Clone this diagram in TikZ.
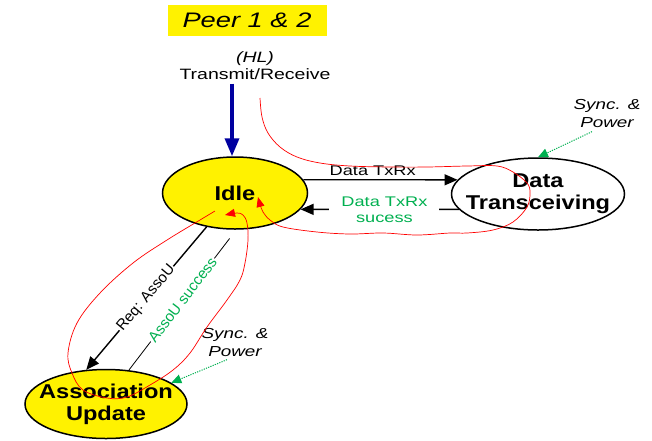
\documentclass[tikz,border=0pt]{standalone}
\usepackage{fontspec}
\setmainfont[FakeStretch=1.3]{Liberation Sans}
\newfontfamily\boldwide[FakeStretch=1.18]{Liberation Sans}
\newfontfamily\plainsf{Liberation Sans}
\usetikzlibrary{shapes.geometric,arrows.meta}
\definecolor{okgreen}{RGB}{0,176,80}
\definecolor{hlblue}{RGB}{0,0,160}
\tikzset{
  state/.style={ellipse, draw, line width=1.5pt, align=center, inner sep=0pt,
    font=\boldwide\bfseries\fontsize{20}{22}\selectfont},
  lbl/.style={align=center, font=\fontsize{14.5}{18}\selectfont},
  slopelbl/.style={sloped, fill=white, inner sep=1pt, font=\plainsf\fontsize{15}{17}\selectfont},
  fwd/.style={line width=1.4pt, -{Triangle[length=13pt,width=11pt]}},
  syncarrow/.style={okgreen, line width=1pt, dash pattern=on 1.2pt off 1.2pt,
    -{Triangle[length=10pt,width=9pt]}},
  trace/.style={red, line width=0.7pt, -{Triangle[length=10pt,width=8pt]}},
}

\begin{document}
\begin{tikzpicture}[x=1pt,y=-1pt]
\useasboundingbox (0,0) rectangle (652,440);

% title and higher layer
\node[fill=yellow, minimum width=159, minimum height=31,
    font=\itshape\fontsize{21}{24}\selectfont] (peer) at (247,20) {Peer 1 \& 2};
\node[lbl, font=\fontsize{15}{17}\selectfont] (hl) at (255,66) {\textit{(HL)}\\Transmit/Receive};

% states
\node[state, fill=yellow, minimum width=145, minimum height=72] (idle) at (235,193) {Idle};
\node[state, inner xsep=-12pt, minimum width=173, minimum height=72] (dt) at (538,194) {Data\\Transceiving};
\node[state, inner xsep=-10pt, fill=yellow, minimum width=162, minimum height=69] (assoc) at (106,404) {Association\\Update};

\node[lbl, font=\itshape\fontsize{14.5}{18}\selectfont] (sync1) at (607,114) {Sync. \&\\Power};
\node[lbl, font=\itshape\fontsize{14.5}{18}\selectfont] (sync2) at (235,342) {Sync. \&\\Power};

% transitions
\draw[hlblue, line width=3.5pt, -{Triangle[length=18pt,width=14pt]}]
    ([xshift=-3pt]hl.south -| idle.north) -- ([xshift=-3pt]idle.north);
\draw[fwd] (idle.11) -- node[above, pos=0.45, font=\fontsize{14}{16}\selectfont] {Data TxRx} (dt.170);
\draw[fwd] (dt.191) -- node[pos=0.47, fill=white, text=okgreen, lbl, inner xsep=12pt,
    font=\fontsize{14}{16}\selectfont] {Data TxRx\\sucess} (idle.-14);
\draw[fwd] (idle.230) -- node[slopelbl] {Req: AssoU} (assoc.120);
\draw[line width=0.8pt, shorten >=11pt] (assoc.56) -- node[slopelbl, text=okgreen] {AssoU success} (idle.272);

\draw[syncarrow] ([xshift=-15pt]sync1.south) -- (dt.north);
\draw[syncarrow] ([xshift=-8pt]sync2.south) -- (assoc.18);

% message traces
\coordinate (rx) at (260,98);
\coordinate (loopin) at ([xshift=23pt,yshift=-4pt]idle.center);
\coordinate (assocout) at ([xshift=-20pt,yshift=-18pt]idle.center);
\coordinate (associn) at ([xshift=-10pt,yshift=-22pt]idle.center);

\draw[trace] plot[smooth, tension=0.6] coordinates {(rx) (262,117) (268,133) (280,147)
    (297,157) (320,163) (350,166) (390,167) (427,167) (467,166) (497,166) (513,172)
    (527,183) (530,193) (527,207) (513,222) (493,230) (467,233) (450,233) (417,235)
    (383,233) (350,234) (317,232) (283,227) (270,220) (263,212) (260,204) (loopin)};
\draw[trace] plot[smooth, tension=0.6] coordinates {(assocout) (200,220) (167,240)
    (133,263) (100,293) (77,323) (68,353) (72,373) (83,390) (107,398) (127,397)
    (150,385) (173,370) (190,353) (207,327) (227,300) (240,280) (245,263) (248,240)
    (247,223) (243,215) (237,213) (associn)};
\end{tikzpicture}
\end{document}
